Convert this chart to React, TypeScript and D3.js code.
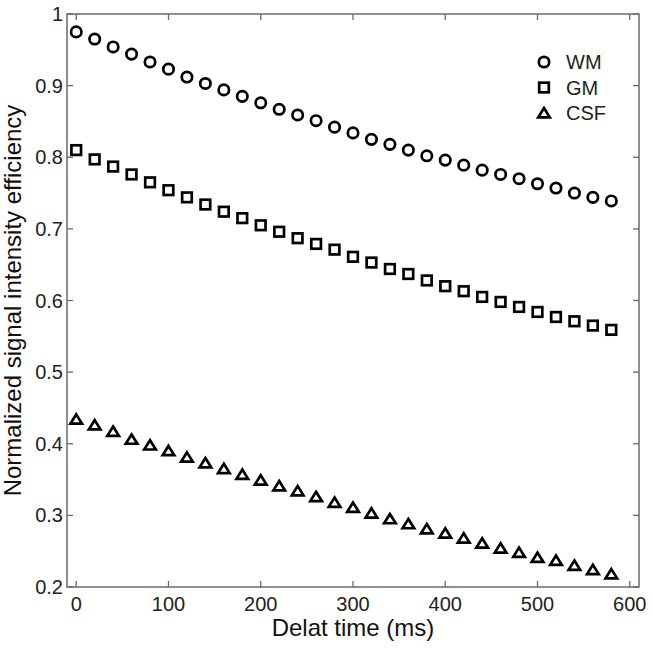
import React from "react";
import * as d3 from "d3";

const times = d3.range(0, 600, 20);
const wm = [0.975, 0.965, 0.954, 0.944, 0.933, 0.923, 0.912, 0.903, 0.894, 0.885, 0.876, 0.867, 0.859, 0.851, 0.842, 0.834, 0.825, 0.818, 0.810, 0.802, 0.796, 0.789, 0.782, 0.776, 0.770, 0.763, 0.757, 0.750, 0.744, 0.739];
const gm = [0.810, 0.797, 0.787, 0.776, 0.765, 0.754, 0.744, 0.734, 0.724, 0.715, 0.705, 0.696, 0.687, 0.679, 0.671, 0.661, 0.653, 0.644, 0.637, 0.628, 0.620, 0.613, 0.605, 0.598, 0.591, 0.584, 0.577, 0.571, 0.565, 0.559];
const csf = [0.434, 0.426, 0.417, 0.406, 0.398, 0.390, 0.381, 0.373, 0.365, 0.357, 0.349, 0.341, 0.334, 0.326, 0.318, 0.311, 0.303, 0.295, 0.288, 0.281, 0.275, 0.268, 0.261, 0.254, 0.248, 0.241, 0.237, 0.230, 0.224, 0.218];
const seriesNames = ["WM", "GM", "CSF"];
const xTicks = [0, 100, 200, 300, 400, 500, 600];
const yTicks = [0.2, 0.3, 0.4, 0.5, 0.6, 0.7, 0.8, 0.9, 1];

const L = 67, R = 639, T = 14, B = 587;
const x = d3.scaleLinear().domain([-10, 610]).range([L, R]);
const y = d3.scaleLinear().domain([0.2, 1]).range([B, T]);

const font = "Arial, 'Liberation Sans', sans-serif";
const SW = 2.7;

function Marker({ kind, cx, cy }: { kind: string; cx: number; cy: number }) {
  if (kind === "WM") return <circle cx={cx} cy={cy} r={5.2} fill="none" stroke="#000" strokeWidth={SW} />;
  if (kind === "GM") return <rect x={cx - 4.8} y={cy - 4.8} width={9.6} height={9.6} fill="none" stroke="#000" strokeWidth={SW} />;
  const p = d3.path();
  p.moveTo(cx, cy - 5);
  p.lineTo(cx + 5.8, cy + 4.3);
  p.lineTo(cx - 5.8, cy + 4.3);
  p.closePath();
  return <path d={p.toString()} fill="none" stroke="#000" strokeWidth={SW} strokeLinejoin="miter" />;
}

export default function App() {
  const data = [wm, gm, csf];
  const axisColor = "#6a6a6a";
  return (
    <svg width={653} height={649} style={{ position: "absolute", left: 0, top: 0, background: "#fff" }}>
      <rect x={L} y={T} width={R - L} height={B - T} fill="none" stroke={axisColor} strokeWidth={1.5} />
      {xTicks.map((t) => (
        <g key={"x" + t}>
          <line x1={x(t)} x2={x(t)} y1={B} y2={B - 6} stroke={axisColor} strokeWidth={1.3} />
          <line x1={x(t)} x2={x(t)} y1={T} y2={T + 6} stroke={axisColor} strokeWidth={1.3} />
          <text x={x(t)} y={B + 24} textAnchor="middle" fontFamily={font} fontSize={20} fill="#222">{t}</text>
        </g>
      ))}
      {yTicks.map((t) => (
        <g key={"y" + t}>
          <line x1={L} x2={L + 6} y1={y(t)} y2={y(t)} stroke={axisColor} strokeWidth={1.3} />
          <line x1={R} x2={R - 6} y1={y(t)} y2={y(t)} stroke={axisColor} strokeWidth={1.3} />
          <text x={L - 4} y={y(t) + 7} textAnchor="end" fontFamily={font} fontSize={20} fill="#222">{t === 1 ? "1" : t.toFixed(1)}</text>
        </g>
      ))}
      {data.map((s, i) =>
        s.map((v, j) => <Marker key={i + "-" + j} kind={seriesNames[i]} cx={x(times[j])} cy={y(v)} />)
      )}
      {seriesNames.map((n, i) => (
        <g key={"lg" + n}>
          <Marker kind={n} cx={544} cy={62 + i * 25.5} />
          <text x={566} y={62 + i * 25.5 + 7} fontFamily={font} fontSize={20} fill="#222">{n}</text>
        </g>
      ))}
      <text x={(L + R) / 2} y={636} textAnchor="middle" fontFamily={font} fontSize={24} fill="#111">Delat time (ms)</text>
      <text transform={`translate(21,${(T + B) / 2}) rotate(-90)`} textAnchor="middle" fontFamily={font} fontSize={24} fill="#111">Normalized signal intensity efficiency</text>
    </svg>
  );
}
